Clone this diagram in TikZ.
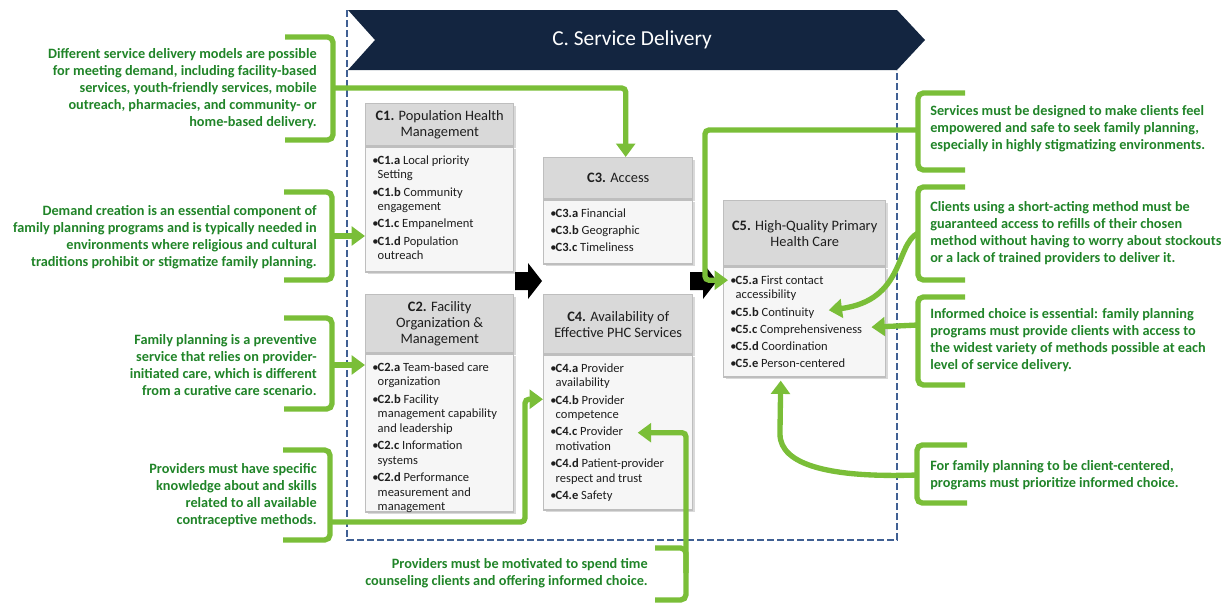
\documentclass[tikz,border=0pt]{standalone}
\usepackage{fontspec}
\setmainfont{Carlito}
\usetikzlibrary{positioning,calc,arrows.meta,shadows}
\definecolor{SDnavy}{RGB}{19,37,64}
\definecolor{SDframe}{RGB}{64,96,148}
\definecolor{SDhead}{RGB}{217,217,217}
\definecolor{SDbody}{RGB}{246,246,246}
\definecolor{SDline}{RGB}{190,190,190}
\definecolor{SDlime}{RGB}{122,190,56}
\definecolor{SDgreen}{RGB}{32,132,40}
\definecolor{SDink}{RGB}{30,30,30}

% one bulleted entry of a box, continuation lines hang under the label
\newcommand{\itm}[2]{\par\hangindent=4pt\hangafter=1\noindent\strut\makebox[4pt][l]{•}\textbf{#1} #2}
% body of a box: total width, total height, entries
\newcommand{\boxtext}[3]{\parbox[c][\dimexpr#2-10pt\relax][t]{\dimexpr#1-10pt\relax}{\fontsize{9.4}{11}\selectfont\setlength{\parskip}{1.9pt}#3}}

\begin{document}
\begin{tikzpicture}[x=0.75pt,y=-0.75pt,
    hd/.style={draw=SDline,line width=1.1pt,fill=SDhead,align=center,text=SDink,
               font=\fontsize{10.8}{12}\selectfont,inner sep=2pt,anchor=north west,
               drop shadow={shadow xshift=1.5pt,shadow yshift=-1.5pt,opacity=0.3}},
    bd/.style={draw=SDline,line width=1.1pt,fill=SDbody,text=SDink,inner sep=5pt,
               anchor=north west,
               drop shadow={shadow xshift=1.5pt,shadow yshift=-1.5pt,opacity=0.3}},
    note/.style={text=SDgreen,font=\bfseries\fontsize{10.7}{12.75}\selectfont,inner sep=0pt},
    brkt/.style={draw=SDlime,line width=4pt,rounded corners=4pt},
    conn/.style={draw=SDlime,line width=4pt,rounded corners=3pt,
                 -{Triangle[length=10pt,width=14pt]}}]
  \useasboundingbox (0,0) rectangle (1229,603);

  % dashed frame and banner
  \draw[SDframe,line width=1.3pt,dash pattern=on 5pt off 2.5pt]
    (347,10) -- (347,540) -- (897,540) -- (897,70);
  \fill[SDnavy] (348,10) -- (897,10) -- (925,40) -- (897,70) -- (348,70) -- (375,40) -- cycle;
  \node[text=white,font=\fontsize{16}{18}\selectfont] (title) at (632,40) {C. Service Delivery};

  % C1 .. C5
  \node[hd,minimum width=111pt,minimum height=31.5pt] (hC1) at (365,103)
    {\textbf{C1.} Population Health\\Management};
  \node[bd] (bC1) at (hC1.south west) {\boxtext{111pt}{93.75pt}{%
    \itm{C1.a}{Local priority\\Setting}
    \itm{C1.b}{Community\\engagement}
    \itm{C1.c}{Empanelment}
    \itm{C1.d}{Population\\outreach}}};

  \node[hd,minimum width=111pt,minimum height=43.5pt] (hC2) at (365,294)
    {\textbf{C2.} Facility\\Organization \&\\Management};
  \node[bd] (bC2) at (hC2.south west) {\boxtext{111pt}{118.5pt}{%
    \itm{C2.a}{Team-based care\\organization}
    \itm{C2.b}{Facility\\management capability\\and leadership}
    \itm{C2.c}{Information\\systems}
    \itm{C2.d}{Performance\\measurement and\\management}}};

  \node[hd,minimum width=111.75pt,minimum height=30.75pt] (hC3) at (543,157)
    {\textbf{C3.} Access};
  \node[bd] (bC3) at (hC3.south west) {\boxtext{111.75pt}{48pt}{%
    \itm{C3.a}{Financial}
    \itm{C3.b}{Geographic}
    \itm{C3.c}{Timeliness}}};

  \node[hd,minimum width=111.75pt,minimum height=44.25pt] (hC4) at (543,294)
    {\textbf{C4.} Availability of\\Effective PHC Services};
  \node[bd] (bC4) at (hC4.south west) {\boxtext{111.75pt}{116.25pt}{%
    \itm{C4.a}{Provider\\availability}
    \itm{C4.b}{Provider\\competence}
    \itm{C4.c}{Provider\\motivation}
    \itm{C4.d}{Patient-provider\\respect and trust}
    \itm{C4.e}{Safety}}};

  \node[hd,minimum width=121.5pt,minimum height=48.75pt] (hC5) at (723,200)
    {\textbf{C5.} High-Quality Primary\\Health Care};
  \node[bd] (bC5) at (hC5.south west) {\boxtext{121.5pt}{82.5pt}{%
    \itm{C5.a}{First contact\\accessibility}
    \itm{C5.b}{Continuity}
    \itm{C5.c}{Comprehensiveness}
    \itm{C5.d}{Coordination}
    \itm{C5.e}{Person-centered}}};

  % black block arrows between the columns
  \foreach \ax in {515,690}
    \fill[black] (\ax,272) -- (\ax+13,272) -- (\ax+13,263) -- (\ax+27,281)
      -- (\ax+13,299) -- (\ax+13,290) -- (\ax,290) -- cycle;

  % notes on the left
  \node[note,align=right,anchor=east] (n1) at (317,88.5)
    {Different service delivery models are possible\\for meeting demand, including facility-based\\services, youth-friendly services, mobile\\outreach, pharmacies, and community- or\\home-based delivery.};
  \node[note,align=right,anchor=east] (n2) at (317,237.5)
    {Demand creation is an essential component of\\family planning programs and is typically needed in\\environments where religious and cultural\\traditions prohibit or stigmatize family planning.};
  \node[note,align=right,anchor=east] (n3) at (317,365.5)
    {Family planning is a preventive\\service that relies on provider-\\initiated care, which is different\\from a curative care scenario.};
  \node[note,align=right,anchor=east] (n4) at (317,495.5)
    {Providers must have specific\\knowledge about and skills\\related to all available\\contraceptive methods.};
  \node[note,align=right,anchor=east] (n5) at (648,573.5)
    {Providers must be motivated to spend time\\counseling clients and offering informed choice.};

  % notes on the right
  \node[note,align=left,anchor=west] (n6) at (930,129)
    {Services must be designed to make clients feel\\empowered and safe to seek family planning,\\especially in highly stigmatizing environments.};
  \node[note,align=left,anchor=west] (n7) at (930,233.5)
    {Clients using a short-acting method must be\\guaranteed access to refills of their chosen\\method without having to worry about stockouts\\or a lack of trained providers to deliver it.};
  \node[note,align=left,anchor=west] (n8) at (930,340.5)
    {Informed choice is essential: family planning\\programs must provide clients with access to\\the widest variety of methods possible at each\\level of service delivery.};
  \node[note,align=left,anchor=west] (n9) at (930,475.5)
    {For family planning to be client-centered,\\programs must prioritize informed choice.};

  % brackets
  \draw[brkt] (285,37) -- (333,37) -- (333,140) -- (285,140);
  \draw[brkt] (284,192) -- (332,192) -- (332,280) -- (284,280);
  \draw[brkt] (284,318) -- (332,318) -- (332,409) -- (284,409);
  \draw[brkt] (283,450) -- (330,450) -- (330,540) -- (283,540);
  \draw[brkt] (655,548) -- (686,548) -- (686,600) -- (655,600);
  \draw[brkt] (965,93) -- (918,93) -- (918,170) -- (965,170);
  \draw[brkt] (965,187) -- (918,187) -- (918,280) -- (965,280);
  \draw[brkt] (965,297) -- (918,297) -- (918,385) -- (965,385);
  \draw[brkt] (967,445) -- (917,445) -- (917,503) -- (967,503);
  \coordinate (b1) at (333,88);
  \coordinate (b2) at (332,236);
  \coordinate (b3) at (332,365);
  \coordinate (b4) at (330,522);
  \coordinate (b5) at (686,573);
  \coordinate (b6) at (918,130);
  \coordinate (b7) at (918,233);
  \coordinate (b8) at (918,325);
  \coordinate (b9) at (917,475);

  % connectors
  \draw[conn] (b1) -| ([xshift=5.6pt]hC3.north);
  \draw[conn] (b2) -- (b2 -| bC1.west);
  \draw[conn] (b3) -- (b3 -| bC2.west);
  \draw[conn] (b4) -- ++(195,0) |- ([yshift=25.1pt]bC4.west);
  \draw[conn] (b5) |- ([xshift=14.6pt]bC4.center);
  \draw[conn] (b6) -- ++(-213,0) |- ([xshift=3.75pt,yshift=31.5pt]bC5.west);
  \draw[conn] (b7) .. controls (895,245) and (905,300) .. ([xshift=18pt,yshift=9pt]bC5.center);
  \draw[conn] (b8) -- ([xshift=-11.25pt,yshift=-3.75pt]bC5.east);
  \draw[conn] (b9) .. controls (830,478) and (780,465) .. (780,430) -- ([xshift=-18pt,yshift=-2pt]bC5.south);
\end{tikzpicture}
\end{document}
